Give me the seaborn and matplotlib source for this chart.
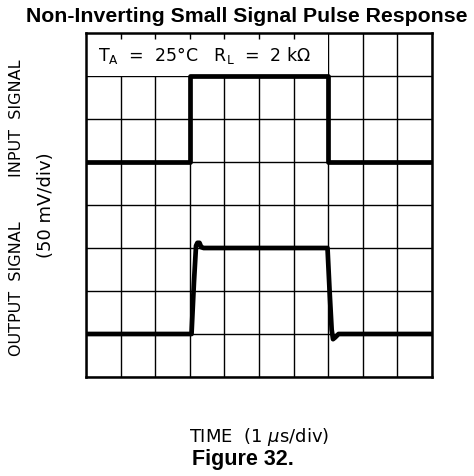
import matplotlib
matplotlib.use('Agg')

import numpy as np
import pandas as pd
import seaborn as sns
import matplotlib.pyplot as plt
from matplotlib.patches import Rectangle

# time in us (1 us/div), amplitude in divisions (50 mV/div)
input_time = [0, 3.0, 3.0, 7.0, 7.0, 10]
input_level = [5, 5, 7, 7, 5, 5]

output_time = [0, 3.05, 3.12, 3.18, 3.22, 3.28, 3.33, 3.40, 6.98, 7.04, 7.10, 7.14, 7.20, 7.30, 10]
output_level = [1, 1, 2.2, 3.05, 3.12, 3.12, 3.02, 3.0, 3.0, 2.0, 1.1, 0.88, 0.92, 1.0, 1.0]

sns.set_style('white')
plt.rcParams['font.family'] = ['DejaVu Sans']
plt.rcParams['text.color'] = 'black'

fig = plt.figure(figsize=(4.74, 4.77), dpi=100)
pos = [86 / 474, 1 - 378 / 477, 346 / 474, 344 / 477]
ax = fig.add_axes(pos)

ax.set_xlim(0, 10)
ax.set_ylim(0, 8)
ax.set_xticks(np.arange(0, 11, 1))
ax.set_yticks(np.arange(0, 9, 1))
ax.tick_params(length=0, labelbottom=False, labelleft=False)
ax.set_axisbelow(True)
ax.grid(True, color='black', linewidth=1.0)

# white box for the conditions text
ax.add_patch(Rectangle((0, 7), 7, 1, facecolor='white', edgecolor='none', zorder=1))

sns.lineplot(x=input_time, y=input_level, estimator=None, sort=False,
             color='black', linewidth=3.4, ax=ax, zorder=3)
sns.lineplot(x=output_time, y=output_level, estimator=None, sort=False,
             color='black', linewidth=3.4, ax=ax, zorder=3)

for s in ax.spines.values():
    s.set_visible(True)
    s.set_color('black')
    s.set_linewidth(1.8)
    s.set_zorder(4)

ax.text(0.35, 7.5, r'T$_\mathregular{A}$  =  25°C   R$_\mathregular{L}$  =  2 k$\Omega$',
        fontsize=12.5, va='center', ha='left', zorder=5)

# short tick stubs along the top edge of the text box (overlay axes)
ax_top = fig.add_axes(pos, facecolor='none')
ax_top.set_xlim(0, 10)
ax_top.set_xticks(np.arange(1, 7, 1))
ax_top.set_yticks([])
ax_top.tick_params(axis='x', top=True, bottom=False, direction='in', length=4,
                   width=1.0, color='black', labeltop=False, labelbottom=False)
for s in ax_top.spines.values():
    s.set_visible(False)

fig.text(247 / 474, 1 - 16 / 477, 'Non-Inverting Small Signal Pulse Response',
         family='Liberation Sans', weight='bold', fontsize=15.3, ha='center', va='center')
fig.text(17 / 474, 1 - 118 / 477, 'INPUT  SIGNAL', rotation=90, fontsize=11.5,
         ha='center', va='center')
fig.text(17 / 474, 1 - 289 / 477, 'OUTPUT  SIGNAL', rotation=90, fontsize=11.5,
         ha='center', va='center')
fig.text(46 / 474, 1 - 205 / 477, '(50 mV/div)', rotation=90, fontsize=13,
         ha='center', va='center')
fig.text(259 / 474, 1 - 437 / 477, r'TIME  (1 $\mu$s/div)', fontsize=13,
         ha='center', va='center')
fig.text(243 / 474, 1 - 460 / 477, 'Figure 32.', family='Liberation Sans',
         weight='bold', fontsize=15.5, ha='center', va='center')

plt.savefig('out.png', dpi=100)
